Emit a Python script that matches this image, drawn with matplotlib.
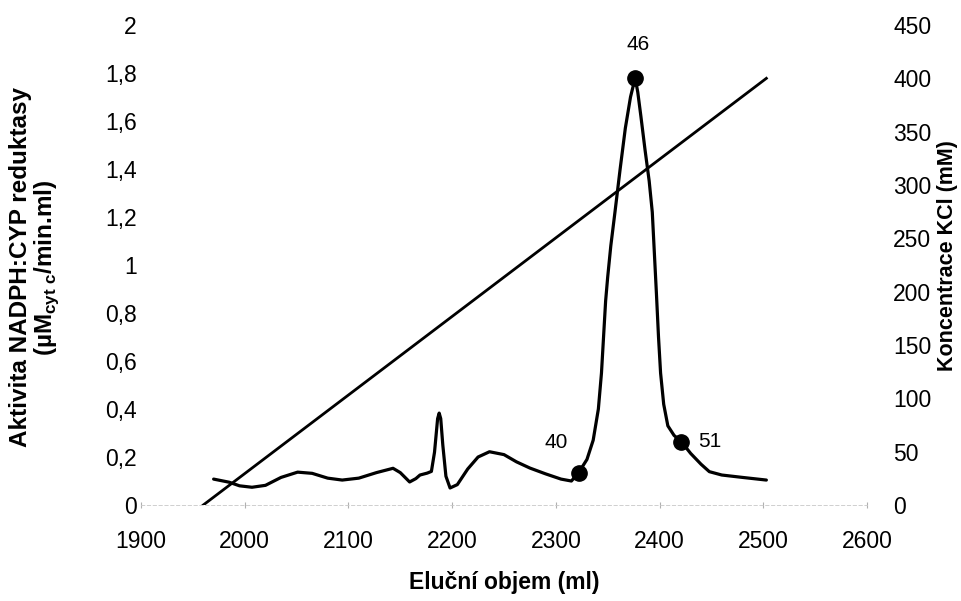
import matplotlib.pyplot as plt

plt.rcParams['font.family'] = ['Liberation Sans', 'DejaVu Sans']
plt.rcParams['mathtext.fontset'] = 'custom'
plt.rcParams['mathtext.rm'] = 'Liberation Sans'
plt.rcParams['mathtext.bf'] = 'Liberation Sans:bold'

# aktivita
objem = [1970, 1985, 1995, 2007, 2020, 2035, 2051, 2065, 2080, 2094, 2110, 2127,
         2143, 2150, 2159, 2165, 2169, 2176, 2180, 2183, 2186, 2187.5, 2189, 2191,
         2194, 2198, 2205, 2215, 2225, 2236, 2250, 2262, 2275, 2290, 2305, 2315,
         2322, 2330, 2336, 2341, 2344, 2346, 2348, 2350, 2353, 2357, 2362, 2367, 2372,
         2376.5, 2379, 2382, 2386, 2390, 2393, 2395, 2397, 2399, 2401, 2404, 2408, 2414,
         2421, 2430, 2440, 2448, 2460, 2480, 2503]
aktivita = [0.108, 0.095, 0.080, 0.074, 0.082, 0.115, 0.137, 0.132, 0.112, 0.104, 0.112, 0.135,
            0.153, 0.135, 0.096, 0.110, 0.125, 0.133, 0.140, 0.220, 0.360, 0.383, 0.360, 0.250,
            0.120, 0.071, 0.085, 0.150, 0.200, 0.222, 0.210, 0.180, 0.154, 0.130, 0.108, 0.100,
            0.135, 0.190, 0.270, 0.400, 0.550, 0.700, 0.850, 0.950, 1.080, 1.220, 1.400, 1.570, 1.700,
            1.780, 1.720, 1.620, 1.480, 1.350, 1.220, 1.050, 0.880, 0.700, 0.550, 0.420, 0.330, 0.290,
            0.264, 0.215, 0.170, 0.139, 0.125, 0.115, 0.104]

# oznacene frakce
frakce = ['40', '46', '51']
frakce_objem = [2322, 2376.5, 2421]
frakce_aktivita = [0.135, 1.780, 0.264]
frakce_posun = [(-22, 30), (3, 33), (28, 0)]

# gradient KCl
kcl_objem = [1960, 2503]
kcl_konc = [0, 400]

fig = plt.figure(figsize=(9.62, 6.01), dpi=100)
ax = fig.add_axes([0.1466, 0.1597, 0.7546, 0.7987])
ax2 = ax.twinx()

ax.plot(objem, aktivita, color='black', lw=2.3, solid_joinstyle='round', solid_capstyle='round', zorder=3)
ax.plot(frakce_objem, frakce_aktivita, 'o', color='black', ms=11, zorder=4)
for t, xv, yv, off in zip(frakce, frakce_objem, frakce_aktivita, frakce_posun):
    ax.annotate(t, (xv, yv), xytext=off, textcoords='offset pixels',
                ha='center', va='center', fontsize=15)

ax2.plot(kcl_objem, kcl_konc, color='black', lw=2.0)

ax.set_xlim(1900, 2600)
ax.set_ylim(0, 2)
ax2.set_ylim(0, 450)
ax.set_xticks(range(1900, 2601, 100))
ax.set_yticks([i * 0.2 for i in range(11)])
ax.set_yticklabels(['0', '0,2', '0,4', '0,6', '0,8', '1', '1,2', '1,4', '1,6', '1,8', '2'])
ax2.set_yticks(range(0, 451, 50))

for a in (ax, ax2):
    for s in a.spines.values():
        s.set_visible(False)
ax.spines['bottom'].set_visible(True)
ax.spines['bottom'].set_color('#c8c8c8')
ax.spines['bottom'].set_linewidth(0.6)
ax.spines['bottom'].set_linestyle((0, (4, 3)))

ax.tick_params(axis='x', length=4, direction='inout', color='#b0b0b0', labelsize=16.5, pad=16)
ax.tick_params(axis='y', length=0, labelsize=16.5, pad=3)
ax2.tick_params(axis='y', length=0, labelsize=16.5, pad=19)

fig.text(0.524, 0.03, 'Eluční objem (ml)', ha='center', va='center',
         fontsize=16.5, fontweight='bold')
fig.text(0.021, 0.555, 'Aktivita NADPH:CYP reduktasy', rotation=90, ha='center', va='center',
         fontsize=17.5, fontweight='bold')
fig.text(0.049, 0.555, r'(µM$_{\mathbf{cyt\ c}}$/min.ml)', rotation=90, ha='center', va='center',
         fontsize=17.5, fontweight='bold')
fig.text(0.985, 0.575, 'Koncentrace KCl (mM)', rotation=90, ha='center', va='center',
         fontsize=15.5, fontweight='bold')

fig.savefig('out.png', dpi=100)
